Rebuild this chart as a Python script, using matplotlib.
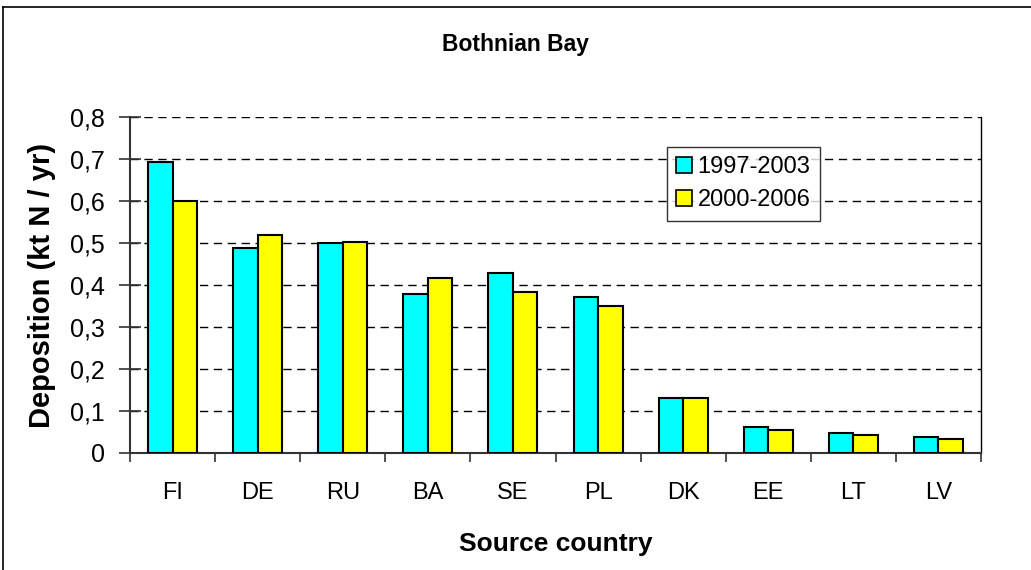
import numpy as np
import matplotlib
matplotlib.use("Agg")
import matplotlib.pyplot as plt
from matplotlib.lines import Line2D
from matplotlib.ticker import FuncFormatter

plt.rcParams['font.family'] = ['Liberation Sans', 'DejaVu Sans']

countries = ["FI", "DE", "RU", "BA", "SE", "PL", "DK", "EE", "LT", "LV"]
dep_1997_2003 = [0.695, 0.488, 0.500, 0.379, 0.428, 0.371, 0.132, 0.063, 0.047, 0.039]
dep_2000_2006 = [0.601, 0.520, 0.504, 0.418, 0.383, 0.350, 0.132, 0.055, 0.043, 0.034]

fig = plt.figure(figsize=(10.31, 5.70), dpi=100)
ax = fig.add_axes([0.1261, 0.2053, 0.8254, 0.5886])

x = np.arange(len(countries))
w = 0.288
ax.bar(x - w / 2, dep_1997_2003, w, color="#00FFFF", edgecolor="black", linewidth=1.5,
       label="1997-2003", zorder=3)
ax.bar(x + w / 2, dep_2000_2006, w, color="#FFFF00", edgecolor="black", linewidth=1.5,
       label="2000-2006", zorder=3)

ax.set_xlim(-0.5, len(countries) - 0.5)
ax.set_ylim(0, 0.8)
ax.set_yticks(np.arange(0, 0.81, 0.1))
ax.yaxis.set_major_formatter(FuncFormatter(lambda v, p: "0" if abs(v) < 1e-9 else f"{v:.1f}".replace(".", ",")))
ax.grid(axis="y", color="black", linestyle=(0, (6, 4)), linewidth=1)
ax.set_axisbelow(True)

ax.set_xticks(x)
ax.set_xticklabels(countries)
ax.set_xticks(np.arange(-0.5, len(countries), 1.0), minor=True)
ax.tick_params(axis="x", which="major", length=0, pad=21, labelsize=17)
ax.tick_params(axis="x", which="minor", length=6.5, width=1.2, direction="out", color="#333333")
ax.tick_params(axis="y", length=16, width=1.2, direction="inout", labelsize=18, pad=10,
               color="#333333")

ax.spines["top"].set_visible(False)
ax.spines["right"].set_linewidth(1)
for s in ["left", "bottom"]:
    ax.spines[s].set_linewidth(1.5)
    ax.spines[s].set_color("#333333")

fig.text(0.5, 1 - 44 / 570, "Bothnian Bay", fontsize=16.5, fontweight="bold",
         ha="center", va="center")
ax.set_ylabel("Deposition (kt N / yr)", fontsize=21, fontweight="bold", labelpad=10)
ax.set_xlabel("Source country", fontsize=19, fontweight="bold", labelpad=20)

leg = ax.legend(loc="upper left", bbox_to_anchor=(0.631, 0.912), borderaxespad=0,
                fontsize=17, frameon=True, fancybox=False, edgecolor="black",
                handlelength=0.65, handleheight=0.65, handletextpad=0.25,
                labelspacing=0.45, borderpad=0.4)
leg.get_frame().set_linewidth(1)
for h in leg.legend_handles:
    h.set_linewidth(1.2)

# outer chart frame (left and top edges visible in the reference)
fig.add_artist(Line2D([3 / 1031, 3 / 1031], [0, 1 - 7 / 570], transform=fig.transFigure,
                      color="black", linewidth=1.2))
fig.add_artist(Line2D([3 / 1031, 1], [1 - 7 / 570, 1 - 7 / 570], transform=fig.transFigure,
                      color="black", linewidth=1.2))

fig.savefig("out.png", dpi=100)
